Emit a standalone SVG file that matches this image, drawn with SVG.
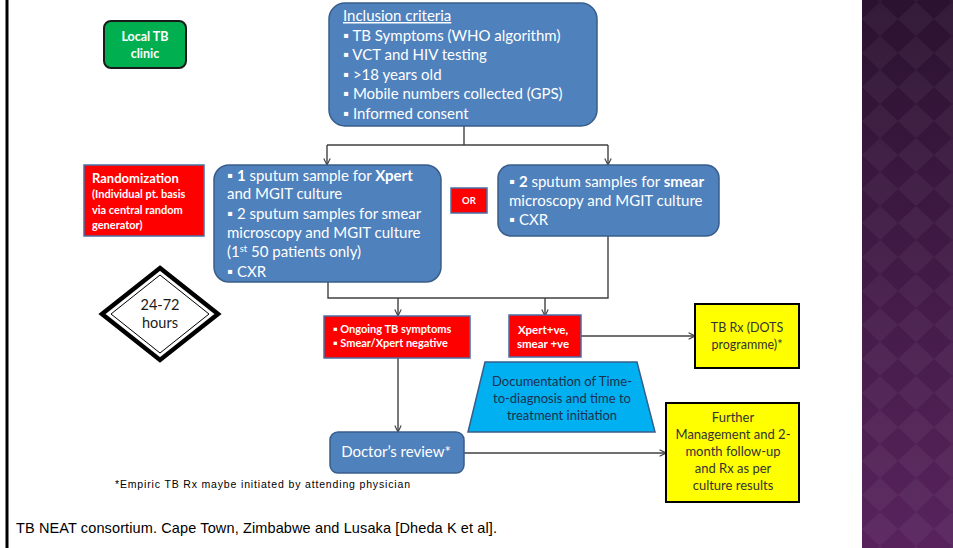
<svg xmlns="http://www.w3.org/2000/svg" width="953" height="548" viewBox="0 0 953 548">
<defs>
<style>
.blue{fill:#4f81bd;stroke:#385d8a;stroke-width:1.5}
.red{fill:#ff0000;stroke:#4a6fa5;stroke-width:1.5}
.yellow{fill:#ffff00;stroke:#000;stroke-width:2}
.conn{fill:none;stroke:#404040;stroke-width:1.4}
.wt{font-family:Lato,"Open Sans",sans-serif;fill:#fff}
.wb{font-family:Lato,"Open Sans",sans-serif;fill:#fff;font-weight:bold}
.dk{font-family:Lato,"Open Sans",sans-serif;fill:#333}
.ar{font-family:"Liberation Sans",Arial,sans-serif;fill:#000}
</style>
<marker id="arr" viewBox="0 0 10 10" refX="9" refY="5" markerWidth="8" markerHeight="8" orient="auto" markerUnits="userSpaceOnUse">
<path d="M1,1 L9,5 L1,9" fill="none" stroke="#404040" stroke-width="1.4"/>
</marker>
<linearGradient id="pg" x1="0" y1="0" x2="0" y2="1">
<stop offset="0" stop-color="#2b1230"/>
<stop offset="1" stop-color="#58235d"/>
</linearGradient>
<pattern id="dia" x="862" y="2" width="36" height="34" patternUnits="userSpaceOnUse">
<polygon points="18,0 36,17 18,34 0,17" fill="#ffffff" fill-opacity="0.045"/>
</pattern>
</defs>
<rect width="953" height="548" fill="#fff"/>
<rect x="862" y="0" width="91" height="548" fill="url(#pg)"/>
<rect x="862" y="0" width="91" height="548" fill="url(#dia)"/>
<line x1="7" y1="0" x2="7" y2="548" stroke="#000" stroke-width="3"/>

<g id="connectors">
<path class="conn" d="M464,126 V145 M327,145 H608"/>
<path class="conn" d="M327,145 V165" marker-end="url(#arr)"/>
<path class="conn" d="M608,145 V165" marker-end="url(#arr)"/>
<path class="conn" d="M328,282 V298 H608 V236"/>
<path class="conn" d="M398,298 V316" marker-end="url(#arr)"/>
<path class="conn" d="M545,298 V316" marker-end="url(#arr)"/>
<path class="conn" d="M398,358 V432" marker-end="url(#arr)"/>
<path class="conn" d="M581,336 H695" marker-end="url(#arr)"/>
<path class="conn" d="M464,453 H666" marker-end="url(#arr)"/>
</g>

<g id="local-tb-clinic">
<rect x="104" y="21" width="82" height="47" rx="7" fill="#00b050" stroke="#1a1a1a" stroke-width="2"/>
<text class="wb" font-size="12.5" text-anchor="middle"><tspan x="145" y="41">Local TB</tspan><tspan x="145" y="58">clinic</tspan></text>
</g>

<g id="inclusion-criteria">
<rect class="blue" x="329" y="3" width="268" height="123" rx="16"/>
<text class="wt" font-size="15">
<tspan x="343" y="21" text-decoration="underline">Inclusion criteria</tspan>
<tspan x="343" y="40.5">▪ TB Symptoms (WHO algorithm)</tspan>
<tspan x="343" y="60">▪ VCT and HIV testing</tspan>
<tspan x="343" y="79.5">▪ &gt;18 years old</tspan>
<tspan x="343" y="99">▪ Mobile numbers collected (GPS)</tspan>
<tspan x="343" y="118.5">▪ Informed consent</tspan>
</text>
</g>

<g id="randomization">
<rect class="red" x="84" y="165" width="120" height="71"/>
<text class="wb" font-size="13"><tspan x="92" y="183">Randomization</tspan></text>
<text class="wb" font-size="11"><tspan x="92" y="198">(Individual pt. basis</tspan><tspan x="92" y="214">via central random</tspan><tspan x="92" y="229">generator)</tspan></text>
</g>

<g id="xpert-arm">
<rect class="blue" x="214" y="165" width="227" height="117" rx="15"/>
<text class="wt" font-size="15">
<tspan x="227" y="181">▪ <tspan font-weight="bold">1</tspan> sputum sample for <tspan font-weight="bold">Xpert</tspan></tspan>
<tspan x="227" y="199">and MGIT culture</tspan>
<tspan x="227" y="219">▪ 2 sputum samples for smear</tspan>
<tspan x="227" y="238">microscopy and MGIT culture</tspan>
<tspan x="227" y="257">(1<tspan font-size="9.5" dy="-5">st</tspan><tspan dy="5"> 50 patients only)</tspan></tspan>
<tspan x="227" y="277">▪ CXR</tspan>
</text>
</g>

<g id="or">
<rect class="red" x="451" y="188" width="36" height="25"/>
<text class="wb" font-size="9.5" x="469" y="204" text-anchor="middle">OR</text>
</g>

<g id="smear-arm">
<rect class="blue" x="498" y="165" width="221" height="71" rx="13"/>
<text class="wt" font-size="15">
<tspan x="509" y="187">▪ <tspan font-weight="bold">2</tspan> sputum samples for <tspan font-weight="bold">smear</tspan></tspan>
<tspan x="509" y="206">microscopy and MGIT culture</tspan>
<tspan x="509" y="225">▪ CXR</tspan>
</text>
</g>

<g id="time-window">
<polygon points="160,268 218,314 160,360 102,314" fill="#fff" stroke="#000" stroke-width="4.5" stroke-linejoin="miter"/>
<polygon points="160,275 209,314 160,353 111,314" fill="none" stroke="#000" stroke-width="1"/>
<text class="dk" font-size="14.5" text-anchor="middle" style="fill:#1a1a1a"><tspan x="160" y="310">24-72</tspan><tspan x="160" y="328">hours</tspan></text>
</g>

<g id="negative">
<rect class="red" x="324" y="316" width="146" height="42"/>
<text class="wb" font-size="11"><tspan x="333" y="333">▪ Ongoing TB symptoms</tspan><tspan x="333" y="347">▪ Smear/Xpert negative</tspan></text>
</g>

<g id="positive">
<rect class="red" x="509" y="315" width="72" height="42"/>
<text class="wb" font-size="11.5" text-anchor="middle"><tspan x="543" y="334">Xpert+ve,</tspan><tspan x="543" y="348">smear +ve</tspan></text>
</g>

<g id="tb-rx">
<rect class="yellow" x="695" y="304" width="104" height="64"/>
<text class="dk" font-size="12.5" text-anchor="middle"><tspan x="747" y="332">TB Rx (DOTS</tspan><tspan x="747" y="349">programme)*</tspan></text>
</g>

<g id="documentation">
<polygon points="485,362 637,362 655,432 468,432" fill="#00b0f0" stroke="#385d8a" stroke-width="1.5"/>
<text class="dk" font-size="13" text-anchor="middle" style="fill:#1f2f4f"><tspan x="562" y="386">Documentation of Time-</tspan><tspan x="562" y="403">to-diagnosis and time to</tspan><tspan x="562" y="420">treatment initiation</tspan></text>
</g>

<g id="doctors-review">
<rect class="blue" x="330" y="432" width="134" height="41" rx="8"/>
<text class="wt" font-size="15" x="396" y="457" text-anchor="middle">Doctor’s review*</text>
</g>

<g id="further-management">
<rect class="yellow" x="666" y="403" width="133" height="99"/>
<text class="dk" font-size="13" text-anchor="middle"><tspan x="733" y="422">Further</tspan><tspan x="733" y="439">Management and 2-</tspan><tspan x="733" y="456">month follow-up</tspan><tspan x="733" y="473">and Rx as per</tspan><tspan x="733" y="490">culture results</tspan></text>
</g>

<text class="ar" font-size="10.5" x="115" y="488" textLength="295" lengthAdjust="spacing">*Empiric TB Rx maybe initiated by attending physician</text>
<text class="ar" font-size="14.5" x="16" y="533" textLength="481" lengthAdjust="spacing">TB NEAT consortium. Cape Town, Zimbabwe and Lusaka [Dheda K et al].</text>
</svg>
